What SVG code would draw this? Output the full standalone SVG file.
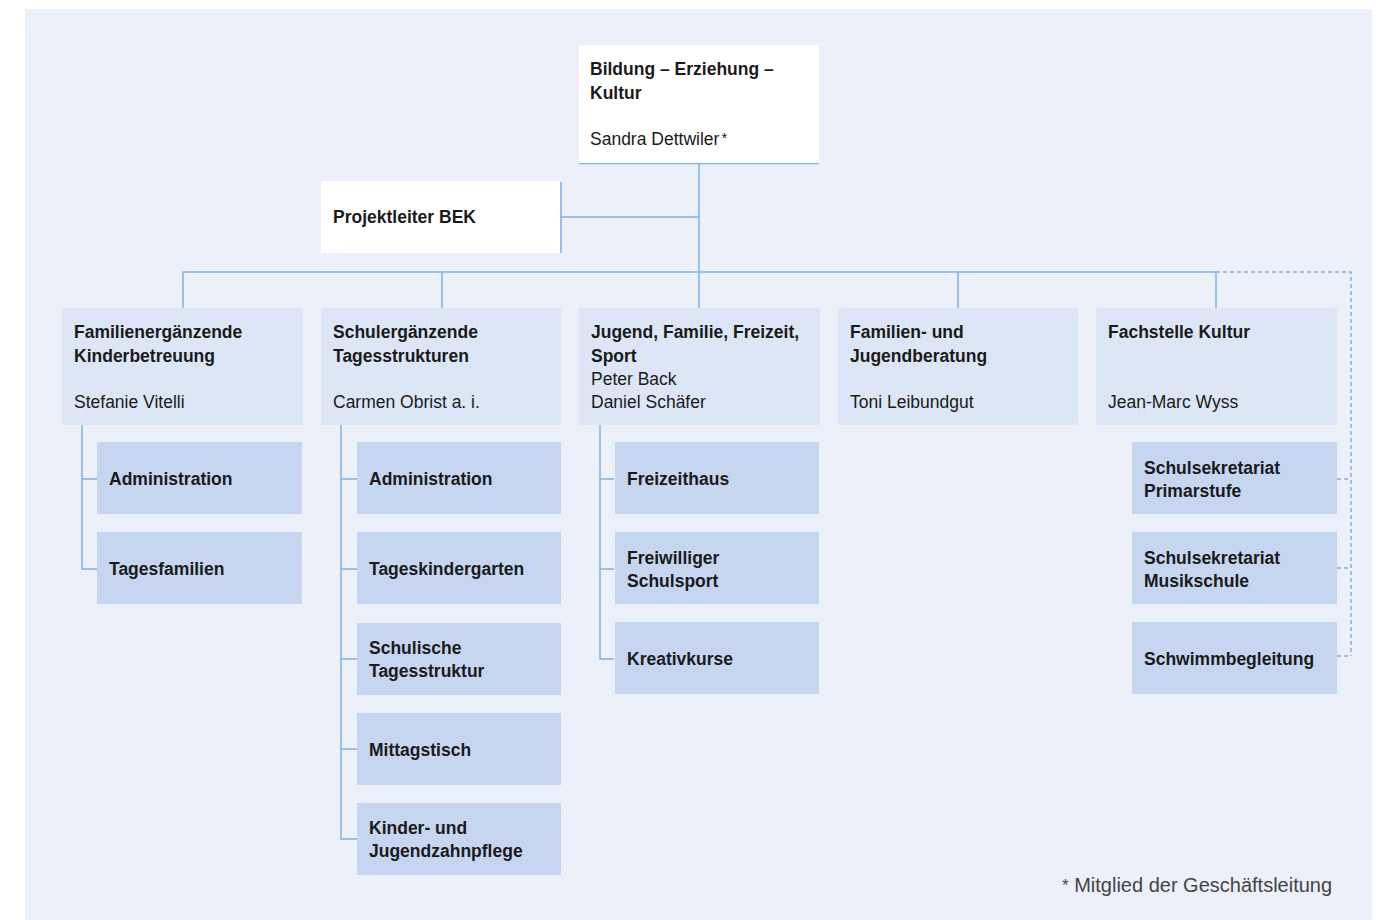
<svg xmlns="http://www.w3.org/2000/svg" width="1385" height="920" viewBox="0 0 1385 920">
<style>
.t{font-family:"Liberation Sans",Arial,sans-serif;font-size:17.5px;fill:#1a1a1a}
.b{font-weight:bold}
.lvl{fill:#dce6f6}
.sub{fill:#c6d6f0}
.top{fill:#ffffff}
.ln{stroke:#7fb3e4;stroke-width:1.5;fill:none}
.dl{stroke:#7fb3e4;stroke-width:1.5;fill:none;stroke-dasharray:4 3}
</style>
<rect x="25" y="9" width="1347" height="911" fill="#ecf0f9"/>
<g id="connectors">
<path class="ln" d="M579 163.5H819"/>
<path class="ln" d="M699 163V272"/>
<path class="ln" d="M561 182V253M561 217H699"/>
<path class="ln" d="M183 308V272H1216V308M442 272V308M699 272V308M958 272V308"/>
<path class="dl" d="M1216 272H1351V656"/>
<path class="dl" d="M1337 479H1351M1337 568H1351M1337 656H1351"/>
<path class="ln" d="M82 425V569H97M82 479H97"/>
<path class="ln" d="M341 425V839H357M341 479H357M341 569H357M341 659H357M341 749H357"/>
<path class="ln" d="M600 425V659H614M600 479H614M600 569H614"/>
</g>
<g id="n-top"><rect class="top" x="579" y="45" width="240" height="118"/>
<text class="t b" x="590" y="75">Bildung – Erziehung –</text><text class="t b" x="590" y="99">Kultur</text>
<text class="t" x="590" y="145">Sandra Dettwiler<tspan dx="2" dy="-2" font-size="15">*</tspan></text></g>
<g id="n-projekt"><rect class="top" x="321" y="181" width="239" height="72"/>
<text class="t b" x="333" y="223">Projektleiter BEK</text></g>
<g id="n-fek"><rect class="lvl" x="62" y="308" width="241" height="117"/>
<text class="t b" x="74" y="338">Familienergänzende</text><text class="t b" x="74" y="362">Kinderbetreuung</text>
<text class="t" x="74" y="408">Stefanie Vitelli</text></g>
<g id="n-sts"><rect class="lvl" x="321" y="308" width="240" height="117"/>
<text class="t b" x="333" y="338">Schulergänzende</text><text class="t b" x="333" y="362">Tagesstrukturen</text>
<text class="t" x="333" y="408">Carmen Obrist a. i.</text></g>
<g id="n-jffs"><rect class="lvl" x="579" y="308" width="241" height="117"/>
<text class="t b" x="591" y="338">Jugend, Familie, Freizeit,</text><text class="t b" x="591" y="362">Sport</text>
<text class="t" x="591" y="385">Peter Back</text><text class="t" x="591" y="408">Daniel Schäfer</text></g>
<g id="n-fjb"><rect class="lvl" x="838" y="308" width="240" height="117"/>
<text class="t b" x="850" y="338">Familien- und</text><text class="t b" x="850" y="362">Jugendberatung</text>
<text class="t" x="850" y="408">Toni Leibundgut</text></g>
<g id="n-kultur"><rect class="lvl" x="1096" y="308" width="241" height="117"/>
<text class="t b" x="1108" y="338">Fachstelle Kultur</text>
<text class="t" x="1108" y="408">Jean-Marc Wyss</text></g>
<g id="n-fek-admin"><rect class="sub" x="97" y="442" width="205" height="72"/><text class="t b" x="109" y="485">Administration</text></g>
<g id="n-fek-tf"><rect class="sub" x="97" y="532" width="205" height="72"/><text class="t b" x="109" y="575">Tagesfamilien</text></g>
<g id="n-sts-admin"><rect class="sub" x="357" y="442" width="204" height="72"/><text class="t b" x="369" y="485">Administration</text></g>
<g id="n-sts-tk"><rect class="sub" x="357" y="532" width="204" height="72"/><text class="t b" x="369" y="575">Tageskindergarten</text></g>
<g id="n-sts-st"><rect class="sub" x="357" y="623" width="204" height="72"/><text class="t b" x="369" y="654">Schulische</text><text class="t b" x="369" y="677">Tagesstruktur</text></g>
<g id="n-sts-mt"><rect class="sub" x="357" y="713" width="204" height="72"/><text class="t b" x="369" y="756">Mittagstisch</text></g>
<g id="n-sts-kjz"><rect class="sub" x="357" y="803" width="204" height="72"/><text class="t b" x="369" y="834">Kinder- und</text><text class="t b" x="369" y="857">Jugendzahnpflege</text></g>
<g id="n-jffs-fh"><rect class="sub" x="615" y="442" width="204" height="72"/><text class="t b" x="627" y="485">Freizeithaus</text></g>
<g id="n-jffs-fs"><rect class="sub" x="615" y="532" width="204" height="72"/><text class="t b" x="627" y="564">Freiwilliger</text><text class="t b" x="627" y="587">Schulsport</text></g>
<g id="n-jffs-kk"><rect class="sub" x="615" y="622" width="204" height="72"/><text class="t b" x="627" y="665">Kreativkurse</text></g>
<g id="n-k-sp"><rect class="sub" x="1132" y="442" width="205" height="72"/><text class="t b" x="1144" y="474">Schulsekretariat</text><text class="t b" x="1144" y="497">Primarstufe</text></g>
<g id="n-k-sm"><rect class="sub" x="1132" y="532" width="205" height="72"/><text class="t b" x="1144" y="564">Schulsekretariat</text><text class="t b" x="1144" y="587">Musikschule</text></g>
<g id="n-k-sb"><rect class="sub" x="1132" y="622" width="205" height="72"/><text class="t b" x="1144" y="665">Schwimmbegleitung</text></g>
<text x="1062" y="892" font-family="Liberation Sans,Arial,sans-serif" font-size="20" fill="#444"><tspan font-size="17" dy="-1">*</tspan><tspan dy="1"> Mitglied der Geschäftsleitung</tspan></text>
</svg>
